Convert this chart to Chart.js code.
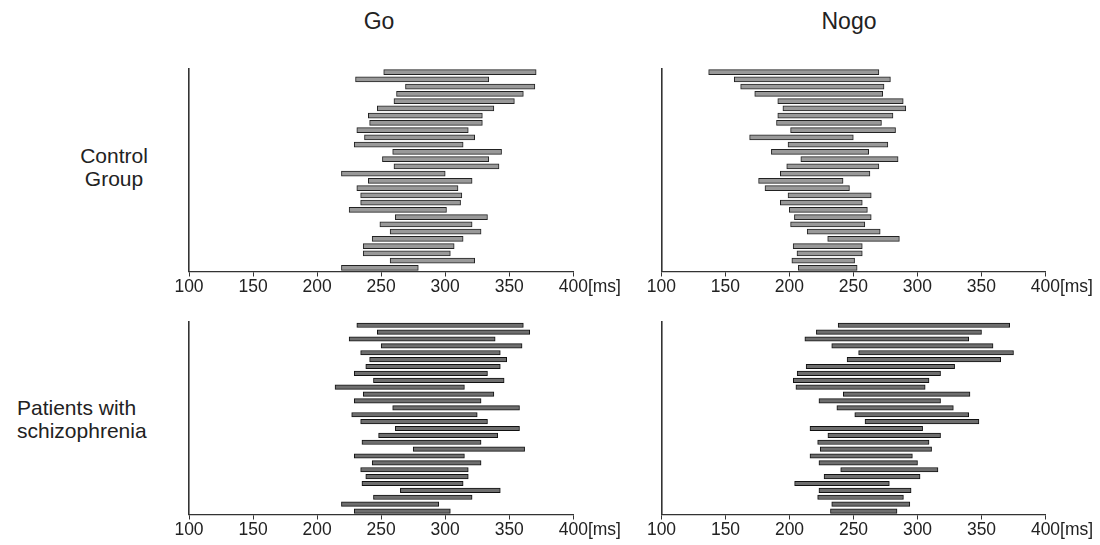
<!DOCTYPE html>
<html>
<head>
<meta charset="utf-8">
<script src="https://cdn.jsdelivr.net/npm/chart.js@4.4.0/dist/chart.umd.min.js"></script>
<style>
  html, body { margin: 0; padding: 0; background: #fff; }
  body { width: 1100px; height: 545px; position: relative; overflow: hidden; font-family: "Liberation Sans", Arial, sans-serif; color: #222; }
  canvas { position: absolute; left: 0; top: 0; }
  .t { position: absolute; white-space: nowrap; }
</style>
</head>
<body>
<div class="t" id="tGo" style="left:279px; top:9.8px; width:200px; text-align:center; font-size:23px; line-height:23px;">Go</div>
<div class="t" id="tNogo" style="left:749px; top:9.8px; width:200px; text-align:center; font-size:23px; line-height:23px;">Nogo</div>
<div class="t" style="left:50px; top:143.5px; width:128px; text-align:center; font-size:21px; line-height:23px;">Control<br>Group</div>
<div class="t" style="left:17px; top:396.2px; text-align:left; font-size:21px; line-height:23px;">Patients with<br>schizophrenia</div>
<canvas id="c1" width="1100" height="545"></canvas>
<canvas id="c2" width="1100" height="545"></canvas>
<canvas id="c3" width="1100" height="545"></canvas>
<canvas id="c4" width="1100" height="545"></canvas>
<script>
// ---- data, each pair = [start, end] in ms ----
const subjects = Array.from({length: 28}, (_, i) => 'S' + (i + 1));
const xTicks = [100, 150, 200, 250, 300, 350, 400];
const unitLabel = '[ms]';

const goControl = [
  [252,371],[230,334],[269,370],[262,361],[260,354],[247,338],[240,329],
  [241,329],[231,318],[237,323],[229,314],[259,344],[251,334],[260,342],
  [219,300],[240,321],[231,310],[234,313],[234,312],[225,301],[261,333],
  [249,321],[257,328],[243,314],[236,307],[236,304],[257,323],[219,279]
];
const nogoControl = [
  [137,270],[157,279],[162,274],[173,273],[191,289],[195,291],[191,281],
  [190,272],[201,283],[169,250],[199,277],[186,262],[209,285],[198,270],
  [193,263],[176,242],[181,247],[199,264],[193,257],[200,261],[204,264],
  [201,259],[214,271],[230,286],[203,257],[206,257],[202,251],[207,253]
];
const goPatients = [
  [231,361],[247,366],[225,339],[250,360],[234,343],[241,348],[238,343],
  [229,333],[244,346],[214,315],[236,338],[229,328],[259,358],[227,325],
  [234,333],[261,358],[248,341],[235,328],[275,362],[229,315],[243,328],
  [234,318],[238,318],[235,314],[265,343],[244,321],[219,295],[229,304]
];
const nogoPatients = [
  [238,372],[221,350],[212,340],[233,359],[254,375],[245,365],[213,329],
  [206,318],[203,309],[205,306],[242,341],[223,318],[237,328],[251,340],
  [259,348],[216,304],[230,318],[222,309],[224,311],[216,296],[223,300],
  [240,316],[227,302],[204,278],[223,295],[222,289],[233,294],[232,284]
];

const FONT = '"Liberation Sans", Arial, sans-serif';
const TICK_SIZE = 17.5;
const TICK_LEN = 5;
const TICK_PAD = 0;

const msPlugin = {
  id: 'msUnit',
  afterDraw(chart) {
    const xs = chart.scales.x;
    const ctx = chart.ctx;
    ctx.save();
    ctx.font = TICK_SIZE + 'px ' + FONT;
    ctx.fillStyle = '#222';
    ctx.textBaseline = 'middle';
    ctx.textAlign = 'left';
    const last = xTicks[xTicks.length - 1];
    const w = ctx.measureText(String(last)).width;
    const px = xs.getPixelForValue(last) + w / 2;
    const py = xs.top + TICK_LEN + TICK_PAD + TICK_SIZE * 1.2 / 2;
    ctx.fillText(unitLabel, px, py);
    ctx.restore();
  }
};

function makePanel(id, values, box, fill, border, thick) {
  new Chart(document.getElementById(id), {
    type: 'bar',
    data: {
      labels: subjects,
      datasets: [{
        data: values,
        backgroundColor: fill,
        borderColor: border,
        borderWidth: 1,
        borderSkipped: false,
        barThickness: thick
      }]
    },
    options: {
      indexAxis: 'y',
      responsive: false,
      animation: false,
      devicePixelRatio: 1,
      layout: { padding: { left: box.left, right: 1100 - box.right, top: box.top, bottom: 545 - box.bottom - 30 } },
      plugins: { legend: { display: false }, tooltip: { enabled: false }, title: { display: false } },
      scales: {
        x: {
          type: 'linear',
          min: xTicks[0],
          max: xTicks[xTicks.length - 1],
          afterFit: s => { s.height = 30; },
          afterBuildTicks: s => { s.ticks = xTicks.map(v => ({ value: v })); },
          ticks: { font: { family: FONT, size: TICK_SIZE }, color: '#222', padding: TICK_PAD, maxRotation: 0, autoSkip: false },
          grid: { drawOnChartArea: false, drawTicks: true, tickLength: TICK_LEN, color: '#333', lineWidth: 1 },
          border: { display: true, color: '#333', width: 1.3 }
        },
        y: {
          type: 'category',
          afterFit: s => { s.width = 0; },
          ticks: { display: false },
          grid: { display: false, drawTicks: false },
          border: { display: true, color: '#333', width: 1.6 }
        }
      }
    },
    plugins: [msPlugin]
  });
}

makePanel('c1', goControl,   { left: 189,   right: 573.3,  top: 68.5,  bottom: 271.5 }, '#999999', '#222222', 5);
makePanel('c2', nogoControl, { left: 661.3, right: 1045.3, top: 68.5,  bottom: 271.5 }, '#999999', '#222222', 5);
makePanel('c3', goPatients,  { left: 189,   right: 573.3,  top: 321.8, bottom: 514.5 }, '#6e6e6e', '#111111', 4.5);
makePanel('c4', nogoPatients,{ left: 661.5, right: 1045.5, top: 321.8, bottom: 514.5 }, '#6e6e6e', '#111111', 4.5);
</script>
</body>
</html>
